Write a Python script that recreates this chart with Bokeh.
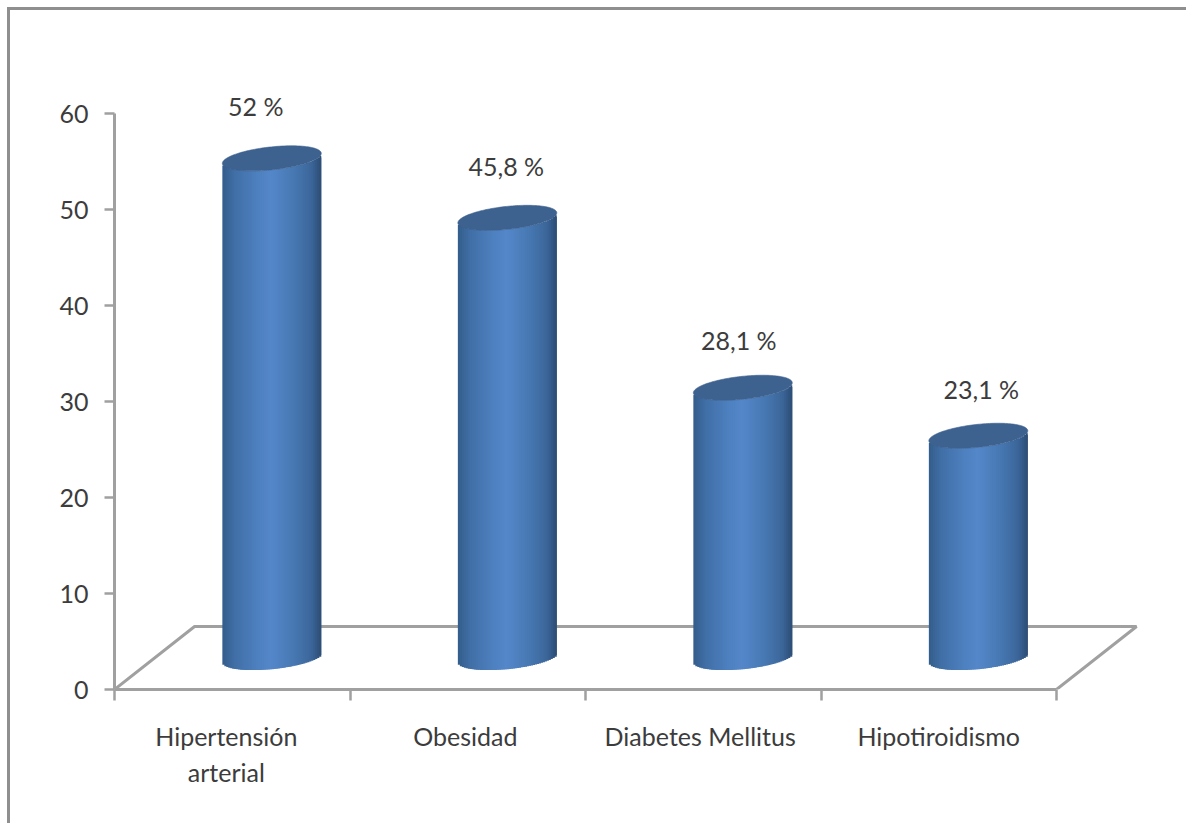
import numpy as np
from bokeh.core.properties import value
from bokeh.embed import file_html
from bokeh.models import FixedTicker, InlineStyleSheet, Range1d
from bokeh.plotting import figure
from bokeh.resources import INLINE

# Chart data
categories = ["Hipertensión\narterial", "Obesidad", "Diabetes Mellitus", "Hipotiroidismo"]
percentages = [52.0, 45.8, 28.1, 23.1]
percentage_labels = ["52 %", "45,8 %", "28,1 %", "23,1 %"]
y_ticks = [0, 10, 20, 30, 40, 50, 60]

# Page and plot-area geometry, in pixels
WIDTH, HEIGHT = 1186, 823
LEFT, BASELINE = 114, 689
PX_PER_CATEGORY = 235.5
PX_PER_UNIT = 9.6

# Oblique depth of the 3-D floor, in data units
FLOOR_DX, FLOOR_DY = 0.34, 6.56
# Where a cylinder stands on the floor, and its shape
BASE_DX, BASE_DY = 0.168, 3.33
HALF_W = 0.21
ELLIPSE_B = 11.5 / PX_PER_UNIT
TILT = 5 / PX_PER_UNIT

AXIS = "#a0a0a0"
TEXT = "#3c3c3c"
FONT = "Lato"
FONT_SIZE = "25px"
TOP_FILL = "#3e628f"

x_end = (WIDTH - LEFT) / PX_PER_CATEGORY
y_end = BASELINE / PX_PER_UNIT

p = figure(
    width=WIDTH, height=HEIGHT, output_backend="svg", toolbar_location=None,
    x_range=Range1d(0, x_end), y_range=Range1d(0, y_end),
    min_border_left=LEFT, min_border_bottom=HEIGHT - BASELINE,
    min_border_top=0, min_border_right=0,
)
p.grid.visible = False
p.outline_line_color = None
p.background_fill_color = "white"

# Chart border: only the top and left edges fall on the page
p.stylesheets = [InlineStyleSheet(css="""
:host::after {
  content: ""; position: absolute; left: 7px; top: 7px; right: 0; bottom: 0;
  border-left: 3px solid #8f8f8f; border-top: 3px solid #8f8f8f;
  pointer-events: none;
}
""")]

# Value axis
ya = p.yaxis[0]
ya.ticker = FixedTicker(ticks=y_ticks, minor_ticks=[])
ya.bounds = (0, 60)
ya.major_tick_in = 0
ya.major_tick_out = 10
ya.major_tick_line_color = AXIS
ya.major_tick_line_width = 2.5
ya.major_label_standoff = 16

# Category axis: ticks mark the category edges, labels sit near the centres
n = len(categories)
label_pos = [0.475, 1.49, 2.487, 3.5]
xa = p.xaxis[0]
xa.ticker = FixedTicker(ticks=label_pos, minor_ticks=list(range(n + 1)))
xa.bounds = (0, n)
xa.major_label_overrides = dict(zip(label_pos, categories))
xa.major_tick_line_color = None
xa.minor_tick_in = 0
xa.minor_tick_out = 11
xa.minor_tick_line_color = AXIS
xa.minor_tick_line_width = 2.5
xa.major_label_standoff = 20

for ax in (xa, ya):
    ax.axis_line_color = AXIS
    ax.axis_line_width = 3
    ax.major_label_text_font = FONT
    ax.major_label_text_font_size = FONT_SIZE
    ax.major_label_text_color = TEXT

# Floor of the 3-D plot
p.line([0, FLOOR_DX, n + FLOOR_DX, n], [0, FLOOR_DY, FLOOR_DY, 0], line_color=AXIS, line_width=3)

# Horizontal shading across a cylinder
stops_t = [-1.0, -0.75, -0.3, 0.0, 0.45, 0.8, 1.0]
stops_rgb = np.array([
    [0x33, 0x5c, 0x8b], [0x41, 0x6f, 0xa6], [0x4d, 0x80, 0xbf], [0x54, 0x87, 0xca],
    [0x47, 0x78, 0xb2], [0x3c, 0x66, 0x9a], [0x2c, 0x4c, 0x74],
])

def shade(t):
    rgb = [np.interp(t, stops_t, stops_rgb[:, c]) for c in range(3)]
    return "#%02x%02x%02x" % tuple(int(round(v)) for v in rgb)

STRIPS = 50
edges = np.linspace(-1, 1, STRIPS + 1)
mids = (edges[:-1] + edges[1:]) / 2
rights = np.minimum(edges[1:] + 2 / STRIPS, 1.0)
theta = np.linspace(0, 2 * np.pi, 160)
for i, val in enumerate(percentages):
    cx = i + 0.5 + BASE_DX
    # Lower rim of the tilted ellipse, as an offset from its centre
    rim = TILT * mids - ELLIPSE_B * np.sqrt(1 - mids ** 2)
    # Each strip runs under the next one so no seams show between them
    p.quad(
        left=cx + edges[:-1] * HALF_W, right=cx + rights * HALF_W,
        bottom=BASE_DY + rim, top=BASE_DY + val + rim,
        fill_color=[shade(t) for t in mids], line_color=None,
    )
    # Top face
    p.patch(
        cx + HALF_W * np.cos(theta),
        BASE_DY + val + TILT * np.cos(theta) + ELLIPSE_B * np.sin(theta),
        fill_color=TOP_FILL, line_color=TOP_FILL, line_width=0.6,
    )

# Value labels above the cylinders
label_dx = [-16, -1, -4, 3]
label_dy = [52, 52, 48, 47]
for i, (val, txt) in enumerate(zip(percentages, percentage_labels)):
    p.text(
        x=[i + 0.5 + BASE_DX], y=[BASE_DY + val], text=[txt],
        x_offset=label_dx[i], y_offset=-label_dy[i],
        text_align="center", text_baseline="middle",
        text_font=value(FONT), text_font_size=FONT_SIZE, text_color=TEXT,
    )

open("out.html", "w").write(file_html(p, INLINE))
